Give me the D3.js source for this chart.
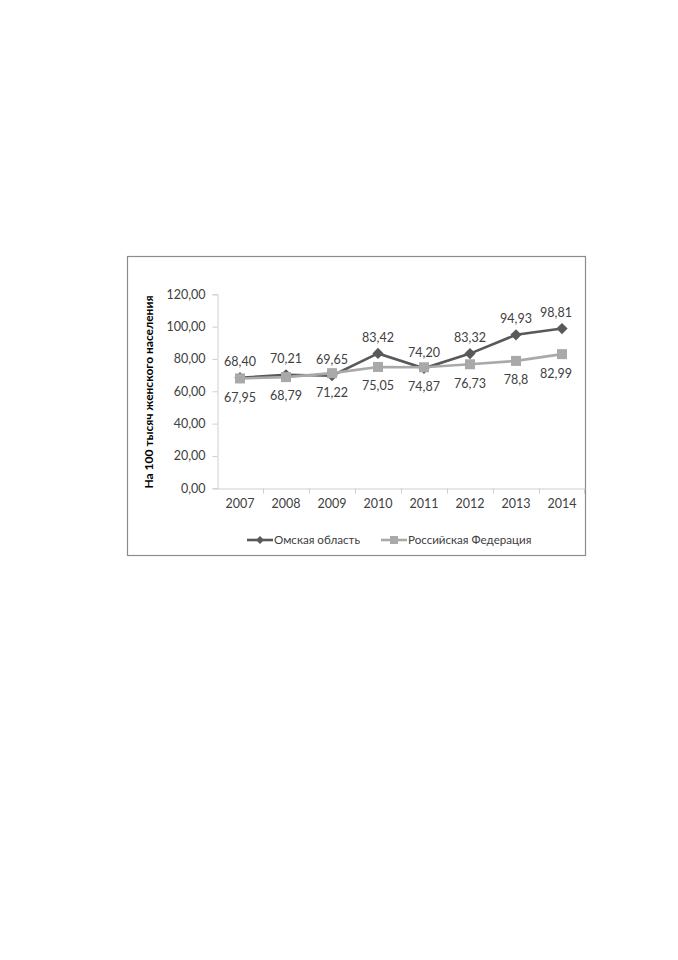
<!DOCTYPE html>
<html><head><meta charset="utf-8">
<script src="https://cdn.jsdelivr.net/npm/d3@7"></script>
<style>
html,body{margin:0;padding:0;background:#fff;}
svg text{font-family:Lato,"Open Sans",sans-serif;}
</style></head>
<body><svg id="c" width="678" height="960"></svg>
<script>
const years = ["2007","2008","2009","2010","2011","2012","2013","2014"];
const omsk = [68.40,70.21,69.65,83.42,74.20,83.32,94.93,98.81];
const rf = [67.95,68.79,71.22,75.05,74.87,76.73,78.8,82.99];
const omskLabels = ["68,40","70,21","69,65","83,42","74,20","83,32","94,93","98,81"];
const rfLabels = ["67,95","68,79","71,22","75,05","74,87","76,73","78,8","82,99"];
const yTicks = [0,20,40,60,80,100,120];
const seriesNames = ["Омская область","Российская Федерация"];
const yTitle = "На 100 тысяч женского населения";

const svg = d3.select("#c");
const txt = "#404040";
// frame
svg.append("rect").attr("x",127.5).attr("y",256.5).attr("width",458).attr("height",299)
  .attr("fill","#fff").attr("stroke","#8c8c8c").attr("stroke-width",1.2);

const x = d3.scaleBand().domain(years).range([217,585]);
const y = d3.scaleLinear().domain([0,120]).range([488.3,294.3]);

// y axis
const ya = svg.append("g").attr("transform","translate(217.5,0)")
  .call(d3.axisLeft(y).tickValues(yTicks).tickSize(5).tickPadding(7)
    .tickFormat(d=>d3.format(".2f")(d).replace(".",",")));
ya.selectAll("path,line").attr("stroke","#cfcfcf");
ya.selectAll("text").attr("fill",txt).style("font-size","12.5px");

// x axis
const xa = svg.append("g").attr("transform","translate(0,488.5)")
  .call(d3.axisBottom(x).tickSize(0).tickPadding(11));
xa.select("path").attr("stroke","#cfcfcf");
xa.selectAll("text").attr("fill",txt).style("font-size","12.5px");
// category boundary ticks
svg.append("g").selectAll("line").data(years.slice(1)).join("line")
  .attr("x1",d=>x(d)+0.5).attr("x2",d=>x(d)+0.5).attr("y1",488.5).attr("y2",493.5)
  .attr("stroke","#cfcfcf");
svg.append("line").attr("x1",x.range()[1]-0.5).attr("x2",x.range()[1]-0.5).attr("y1",488.5).attr("y2",493.5).attr("stroke","#cfcfcf");

// y title
svg.append("text").attr("transform","translate(153,392) rotate(-90)")
  .attr("text-anchor","middle").attr("fill","#000").style("font-size","12px").style("font-weight","bold")
  .text(yTitle);

const cx = d => x(d)+x.bandwidth()/2;
const line = d3.line().x((d,i)=>cx(years[i])).y(d=>y(d));
const cOmsk = "#595959", cRf = "#a9a9a9";

// Omsk
svg.append("path").datum(omsk).attr("d",line).attr("fill","none").attr("stroke",cOmsk).attr("stroke-width",2.6);
svg.append("g").selectAll("path").data(omsk).join("path")
  .attr("d",d3.symbol(d3.symbolDiamond2,80)())
  .attr("transform",(d,i)=>`translate(${cx(years[i])},${y(d)})`).attr("fill",cOmsk);
// RF
svg.append("path").datum(rf).attr("d",line).attr("fill","none").attr("stroke",cRf).attr("stroke-width",2.6);
svg.append("g").selectAll("rect").data(rf).join("rect")
  .attr("x",(d,i)=>cx(years[i])-5).attr("y",d=>y(d)-5).attr("width",10).attr("height",10).attr("fill",cRf);

function lx(i){ return Math.min(cx(years[i]), 556); }
// labels
svg.append("g").selectAll("text").data(omsk).join("text")
  .attr("x",(d,i)=>lx(i)).attr("y",d=>y(d)-16).attr("dy","0.35em")
  .attr("text-anchor","middle").attr("fill",txt).style("font-size","12.5px")
  .text((d,i)=>omskLabels[i]);
svg.append("g").selectAll("text").data(rf).join("text")
  .attr("x",(d,i)=>lx(i)).attr("y",d=>y(d)+19).attr("dy","0.35em")
  .attr("text-anchor","middle").attr("fill",txt).style("font-size","12.5px")
  .text((d,i)=>rfLabels[i]);

// legend
const lg = svg.append("g");
const legItems = [{n:seriesNames[0],c:cOmsk,t:"d",x0:247},{n:seriesNames[1],c:cRf,t:"s",x0:381}];
legItems.forEach(it=>{
  lg.append("line").attr("x1",it.x0).attr("x2",it.x0+26).attr("y1",540).attr("y2",540).attr("stroke",it.c).attr("stroke-width",2.6);
  if(it.t==="d") lg.append("path").attr("d",d3.symbol(d3.symbolDiamond2,40)()).attr("transform",`translate(${it.x0+13},540)`).attr("fill",it.c);
  else lg.append("rect").attr("x",it.x0+9).attr("y",536).attr("width",8).attr("height",8).attr("fill",it.c);
  lg.append("text").attr("x",it.x0+27).attr("y",540).attr("dy","0.35em").attr("fill",txt).style("font-size","11.6px").text(it.n);
});
</script></body></html>
